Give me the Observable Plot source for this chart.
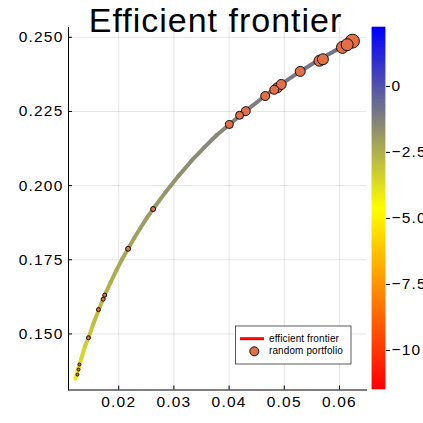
<!DOCTYPE html>
<html>
<head>
<meta charset="utf-8">
<script src="https://cdn.jsdelivr.net/npm/d3@7"></script>
<script src="https://cdn.jsdelivr.net/npm/@observablehq/plot@0.6"></script>
<style>
  html, body { margin: 0; padding: 0; background: white; }
  #wrap { position: relative; width: 423px; height: 423px; overflow: hidden; }
  #wrap svg { position: absolute; top: 0; overflow: visible; }
</style>
</head>
<body>
<div id="wrap"></div>
<script>
// ---- Data ----
const titleText = "Efficient frontier";
const frontierRisk   = [0.01216,0.01271,0.01325,0.01388,0.01452,0.01542,0.01633,0.01747,0.01850,0.01958,0.02062,0.02170,0.02284,0.02393,0.02510,0.02623,0.02845,0.03081,0.03316,0.03551,0.03768,0.04004,0.04302,0.04655,0.04945,0.05289,0.05651,0.05958,0.06235];
const frontierReturn = [0.1349,0.1385,0.1419,0.1458,0.1487,0.1535,0.1579,0.1631,0.1673,0.1714,0.1752,0.1787,0.1824,0.1857,0.1891,0.1921,0.1977,0.2032,0.2083,0.2129,0.2169,0.2206,0.2252,0.2303,0.2342,0.2385,0.2427,0.2459,0.2486];
const frontierZ      = [-4.3,-3.95,-3.65,-3.35,-3.15,-2.95,-2.8,-2.6,-2.5,-2.4,-2.3,-2.2,-2.12,-2.05,-1.97,-1.9,-1.8,-1.68,-1.57,-1.47,-1.4,-1.32,-1.22,-1.12,-1.04,-0.97,-0.9,-0.85,-0.8];

const portRisk   = [0.01252,0.01271,0.01289,0.01452,0.01633,0.01718,0.01747,0.02170,0.02623,0.04004,0.04190,0.04302,0.04655,0.04818,0.04878,0.04945,0.05289,0.05638,0.05700,0.06054,0.06139,0.06235];
const portReturn = [0.1363,0.1380,0.1397,0.1487,0.1582,0.1617,0.1631,0.1787,0.1921,0.2206,0.2237,0.2251,0.2302,0.2323,0.2330,0.2341,0.2385,0.2421,0.2426,0.2466,0.2475,0.2487];
const portSize   = [3,3,3,4,4,4,4,5,5,8,8,9,9,9,10,10,10,11,11,12,12,14];

const xTicks = [0.02,0.03,0.04,0.05,0.06];
const yTicks = [0.150,0.175,0.200,0.225,0.250];
const cbTicks = [0,-2.5,-5,-7.5,-10];
const cbTickLabels = ["0","\u22122.5","\u22125.0","\u22127.5","\u221210"];
const zLimits = [-11.48, 2.23];
const legendLabels = ["efficient frontier","random portfolio"];

// ---- Build tables ----
const segments = d3.range(frontierRisk.length - 1).map(i => ({
  x1: frontierRisk[i], y1: frontierReturn[i],
  x2: frontierRisk[i+1], y2: frontierReturn[i+1],
  z: (frontierZ[i] + frontierZ[i+1]) / 2
}));
const portfolios = portRisk.map((r, i) => ({risk: r, ret: portReturn[i], size: portSize[i]}));

const zMid = (zLimits[0] + zLimits[1]) / 2;
const colorScale = {
  type: "linear",
  domain: [zLimits[0], zMid, zLimits[1]],
  range: ["#ff0000", "#ffff00", "#0000ff"],
  interpolate: "rgb"
};
const font = "Liberation Sans, Arial, Helvetica, sans-serif";

const main = Plot.plot({
  width: 423, height: 423,
  marginLeft: 68, marginRight: 57, marginTop: 27, marginBottom: 33.5,
  style: {fontFamily: font, fontSize: "15.5px", letterSpacing: "1.2px", color: "black", background: "transparent"},
  x: {domain: [0.0109, 0.0649], ticks: xTicks, tickFormat: d => d.toFixed(2), grid: true, line: true, tickSize: -4, tickPadding: 10, label: null},
  y: {domain: [0.1311, 0.2533], ticks: yTicks, tickFormat: d => d.toFixed(3), grid: true, line: true, tickSize: -4, tickPadding: 9, label: null},
  color: colorScale,
  r: {type: "linear", domain: [0, 14], range: [0, 7]},
  marks: [
    Plot.link(segments, {x1: "x1", y1: "y1", x2: "x2", y2: "y2", stroke: "z", strokeWidth: 4, strokeLinecap: "round"}),
    Plot.dot(portfolios, {x: "risk", y: "ret", r: "size", fill: "#e26f46", stroke: "black", strokeWidth: 0.9})
  ]
});
main.style.left = "0px";

const svg = d3.select(main);
svg.append("text")
  .attr("x", 215.5).attr("y", 32)
  .attr("text-anchor", "middle")
  .attr("font-size", 34).attr("letter-spacing", "1px")
  .attr("font-family", font).attr("fill", "black")
  .text(titleText);

const lg = svg.append("g").attr("font-family", font).attr("font-size", 10)
  .attr("letter-spacing", "0.1px").attr("text-anchor", "start");
lg.append("rect").attr("x", 235.5).attr("y", 326).attr("width", 115.5).attr("height", 38)
  .attr("fill", "white").attr("stroke", "#333").attr("stroke-width", 0.8);
lg.append("line").attr("x1", 240).attr("x2", 264).attr("y1", 338.7).attr("y2", 338.7)
  .attr("stroke", "#ff0000").attr("stroke-width", 3);
lg.append("text").attr("x", 269).attr("y", 342.3).attr("fill", "black").text(legendLabels[0]);
lg.append("circle").attr("cx", 254.3).attr("cy", 351.3).attr("r", 4.5)
  .attr("fill", "#e26f46").attr("stroke", "black").attr("stroke-width", 0.9);
lg.append("text").attr("x", 269).attr("y", 354.3).attr("fill", "black").text(legendLabels[1]);

// ---- Colorbar ----
const nBands = 362;
const bands = d3.range(nBands).map(i => {
  const a = zLimits[0] + i * (zLimits[1] - zLimits[0]) / nBands;
  const b = zLimits[0] + (i + 1) * (zLimits[1] - zLimits[0]) / nBands;
  return {y1: a, y2: b, z: (a + b) / 2};
});
const cbar = Plot.plot({
  width: 51, height: 423,
  marginLeft: 0, marginRight: 38, marginTop: 27, marginBottom: 34,
  style: {fontFamily: font, fontSize: "15.5px", letterSpacing: "1.2px", color: "black", background: "transparent", overflow: "visible"},
  x: {domain: [0, 1], axis: null},
  y: {domain: zLimits, ticks: cbTicks, tickFormat: d => cbTickLabels[cbTicks.indexOf(d)], axis: "right", tickSize: 4, tickPadding: 2, label: null},
  color: colorScale,
  marks: [
    Plot.rect(bands, {x1: 0, x2: 1, y1: "y1", y2: "y2", fill: "z", stroke: "z", strokeWidth: 0.6})
  ]
});
cbar.style.left = "372px";

const wrap = document.getElementById("wrap");
wrap.appendChild(main);
wrap.appendChild(cbar);
</script>
</body>
</html>
